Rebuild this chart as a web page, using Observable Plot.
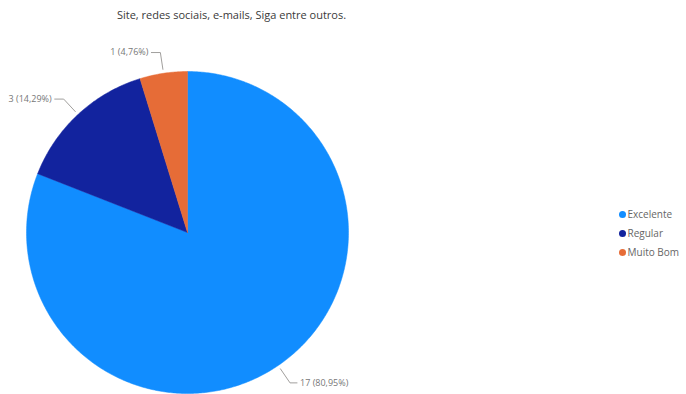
<!DOCTYPE html>
<html><head><meta charset="utf-8">
<script src="https://cdn.jsdelivr.net/npm/d3@7"></script>
<script src="https://cdn.jsdelivr.net/npm/@observablehq/plot@0.6"></script>
<style>body{margin:0;background:#fff;}</style>
</head><body><div id="chart"></div>
<script>
const title = "Site, redes sociais, e-mails, Siga entre outros.";
const categories = ["Excelente", "Regular", "Muito Bom"];
const values = [17, 3, 1];
const colors = ["#118DFF", "#12239E", "#E66C37"];

const W = 686, H = 394;
const cx = 187, cy = 232, R = 161;
const total = d3.sum(values);
const arcs = d3.pie().sort(null).value(d => d)(values);

const pt = (a, r) => [cx + r * Math.sin(a), cy - r * Math.cos(a)];

const slicePts = [];
arcs.forEach((a, i) => {
  slicePts.push({cat: categories[i], x: cx, y: cy});
  const n = Math.max(2, Math.ceil((a.endAngle - a.startAngle) / 0.01));
  for (let k = 0; k <= n; k++) {
    const t = a.startAngle + (a.endAngle - a.startAngle) * k / n;
    const [x, y] = pt(t, R);
    slicePts.push({cat: categories[i], x, y});
  }
  slicePts.push({cat: categories[i], x: cx, y: cy});
});

const fmt = v => (v / total * 100).toFixed(2).replace(".", ",");
const leaders = [], labels = [];
arcs.forEach((a, i) => {
  const m = (a.startAngle + a.endAngle) / 2;
  const p1 = pt(m, R + 4), p2 = pt(m, R + 21);
  const right = Math.sin(m) >= 0;
  const p3 = [p2[0] + (right ? 7 : -9), p2[1]];
  [p1, p2, p3].forEach(p => leaders.push({cat: categories[i], x: p[0], y: p[1]}));
  labels.push({x: p3[0] + (right ? 3 : -3), y: p3[1], anchor: right ? "start" : "end",
    text: `${values[i]} (${fmt(values[i])}%)`});
});

const legend = categories.map((c, i) => ({cat: c, x: 622, y: 214 + i * 19}));

const plot = Plot.plot({
  width: W, height: H,
  margin: 0,
  x: {type: "identity", axis: null},
  y: {type: "identity", axis: null},
  color: {domain: categories, range: colors},
  style: {fontFamily: "'Open Sans', sans-serif", background: "#fff"},
  marks: [
    Plot.line(slicePts, {x: "x", y: "y", z: "cat", fill: "cat", stroke: "cat", strokeWidth: 0.5}),
    Plot.line(leaders, {x: "x", y: "y", z: "cat", stroke: "#a19f9d", strokeWidth: 1}),
    Plot.text(labels.filter(d => d.anchor === "start"), {x: "x", y: "y", text: "text", textAnchor: "start", fill: "#777", fontSize: 9}),
    Plot.text(labels.filter(d => d.anchor === "end"), {x: "x", y: "y", text: "text", textAnchor: "end", fill: "#777", fontSize: 9}),
    Plot.text([title], {x: () => 231, y: () => 15, text: d => d, fill: "#3a3a3a", fontSize: 11, fontWeight: 500}),
    Plot.dot(legend, {x: "x", y: "y", fill: "cat", r: 3.5}),
    Plot.text(legend, {x: d => d.x + 5, y: "y", text: "cat", textAnchor: "start", fill: "#666", fontSize: 10})
  ]
});
document.getElementById("chart").appendChild(plot);
</script></body></html>
